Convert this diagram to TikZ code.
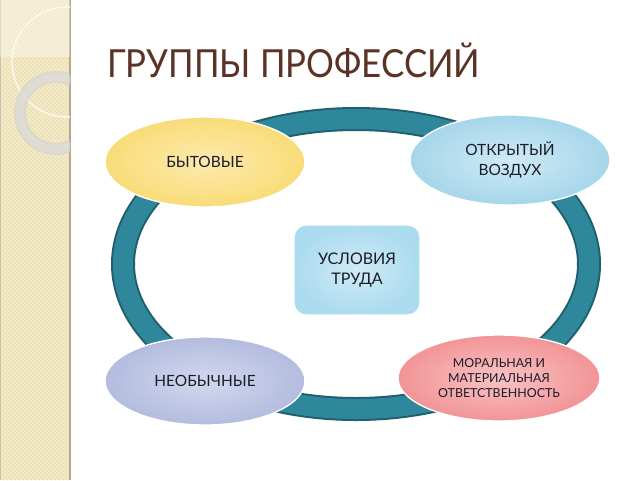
\documentclass[tikz,border=0pt]{standalone}
\usepackage{fontspec}
\setmainfont{Lato}
\usetikzlibrary{shapes.geometric,patterns}
\definecolor{strip}{HTML}{EEE1B6}
\definecolor{stripline}{HTML}{B8A88A}
\definecolor{teal}{HTML}{2F879B}
\definecolor{tealdark}{HTML}{1F5F6E}
\definecolor{titlec}{HTML}{5A3226}
\definecolor{ylw}{HTML}{F9DC78}
\definecolor{ylwin}{HTML}{FCEAAE}
\definecolor{sky}{HTML}{A6D6EA}
\definecolor{skyin}{HTML}{CFEAF5}
\definecolor{lav}{HTML}{B3BCDF}
\definecolor{lavin}{HTML}{D3D8EE}
\definecolor{pnk}{HTML}{F29496}
\definecolor{pnkin}{HTML}{F9C3C4}
\definecolor{boxc}{HTML}{ABDBEF}
\definecolor{boxin}{HTML}{CFEBF6}
\definecolor{txt}{HTML}{1C1C2A}
\tikzset{
  blob/.style={ellipse, minimum width=200*0.75pt, minimum height=90*0.75pt, inner sep=0pt, align=center, text=txt, font=\fontsize{11.6}{14.5}\selectfont},
}
\begin{document}
\begin{tikzpicture}[x=0.75pt,y=-0.75pt]
\useasboundingbox (0,0) rectangle (640,480);
\fill[white] (0,0) rectangle (640,480);
% left strip
\fill[strip] (0,0) rectangle (70,480);
\fill[pattern=north east lines, pattern color=white!60!strip] (0,0) rectangle (70,480);
\draw[stripline, line width=1pt] (70,0) -- (70,480);
\draw[stripline!70, line width=0.8pt] (0.5,0) -- (0.5,480);
\begin{scope}
\clip (0,0) rectangle (70,480);
\fill[white, opacity=0.35] (0,0) rectangle (70,57);
\draw[white!85!strip, line width=1pt] (67,62) circle (55);
\draw[black!20, line width=9pt, opacity=0.5] (56,113) circle (36);
\draw[white!75!gray, line width=6pt, opacity=0.6] (56,113) circle (36);
\end{scope}
% title
\node[anchor=base west, text=titlec, font=\fontsize{29}{34}\selectfont, inner sep=0pt, xscale=0.9] (title) at (107,77) {ГРУППЫ ПРОФЕССИЙ};
% ring
\draw[tealdark, line width=24*0.75pt] (356,264) ellipse (233 and 145);
\draw[teal, line width=20*0.75pt] (356,264) ellipse (233 and 145);
% central box
\node[draw=white, line width=1pt, rounded corners=9pt, inner color=boxin, outer color=boxc, minimum width=126*0.75pt, minimum height=90*0.75pt, align=center, text=txt, font=\fontsize{12}{15.5}\selectfont] (center) at (357,270) {УСЛОВИЯ\\ТРУДА};
% ellipses
\node[blob, draw=white, line width=1pt, inner color=ylwin, outer color=ylw] (b1) at (205,162) {БЫТОВЫЕ};
\node[blob, draw=white, line width=1pt, inner color=skyin, outer color=sky] (b2) at (510,160) {ОТКРЫТЫЙ\\ВОЗДУХ};
\node[blob, draw=white, line width=1pt, inner color=lavin, outer color=lav, minimum height=88*0.75pt] (b3) at (205,381) {НЕОБЫЧНЫЕ};
\node[blob, draw=white, line width=1pt, inner color=pnkin, outer color=pnk, minimum width=202*0.75pt, minimum height=86*0.75pt, font=\fontsize{9.3}{11.5}\selectfont] (b4) at (499,378) {МОРАЛЬНАЯ И\\МАТЕРИАЛЬНАЯ\\ОТВЕТСТВЕННОСТЬ};
\end{tikzpicture}
\end{document}
